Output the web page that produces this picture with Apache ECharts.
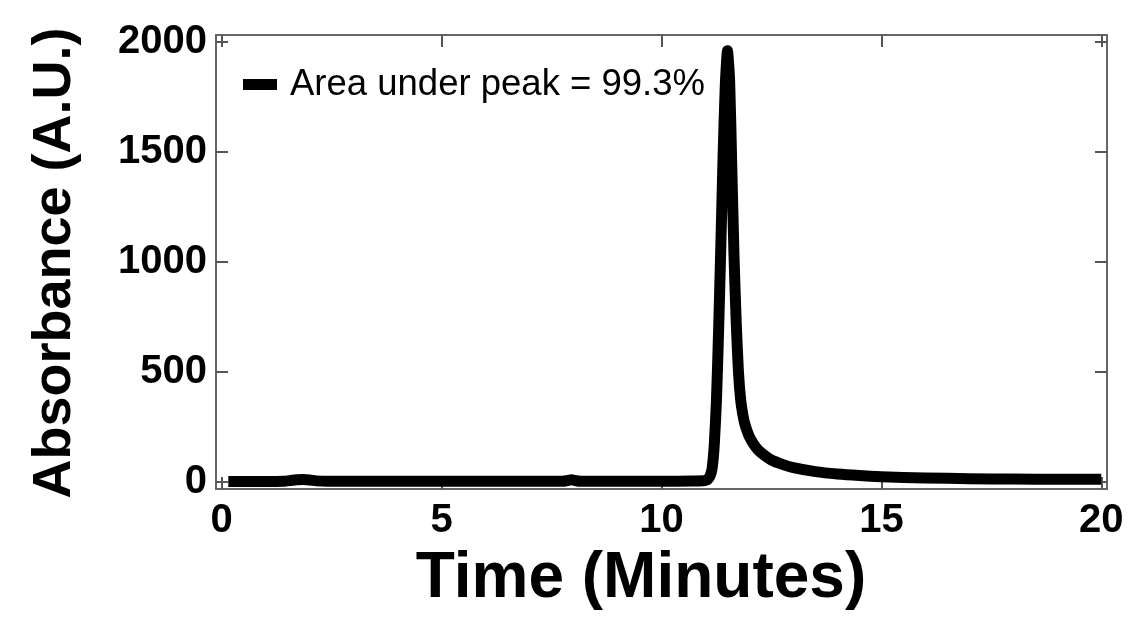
<!DOCTYPE html>
<html>
<head>
<meta charset="utf-8">
<script src="https://cdn.jsdelivr.net/npm/echarts@6/dist/echarts.min.js"></script>
<style>
  html, body { margin: 0; padding: 0; background: #fff; }
  #chart { width: 1132px; height: 634px; }
</style>
</head>
<body>
<div id="chart"></div>
<script>
// Chromatogram trace: retention time (minutes) and detector absorbance (A.U.)
const timeMin = [
  0.15, 0.5, 1.0, 1.4, 1.55, 1.7, 1.85, 2.0, 2.15, 2.4, 3.0, 4.0, 5.0, 6.0, 7.0, 7.75,
  7.85, 7.95, 8.05, 8.15, 9.0, 10.0, 10.7, 10.95, 11.0, 11.05, 11.1, 11.15, 11.2, 11.25,
  11.3, 11.35, 11.4, 11.45, 11.5, 11.55, 11.6, 11.65, 11.7, 11.75, 11.8, 11.85,
  11.9, 11.95, 12.0, 12.1, 12.2, 12.35, 12.5, 12.75, 13.0, 13.5, 14.0, 14.5, 15.0,
  16.0, 17.0, 18.0, 19.0, 20.0
];
const absorbance = [
  2, 2, 2, 3, 6, 10, 11, 9, 5, 3, 3, 3, 3, 3, 3, 3,
  6, 10, 6, 3, 3, 3, 4, 5, 7, 12, 25, 60, 170, 373,
  700, 1080, 1480, 1800, 1960, 1820, 1418, 1020, 720, 500, 373, 305,
  260, 230, 205, 170, 145, 120, 100, 80, 65, 47, 36, 29, 24,
  18, 15, 13, 12, 12
];
const xTicks = [0, 5, 10, 15, 20];
const yTicks = [0, 500, 1000, 1500, 2000];

const legendLabel = 'Area under peak = 99.3%';
const xTitle = 'Time (Minutes)';
const yTitle = 'Absorbance (A.U.)';

const FONT = 'Liberation Sans, Arial, sans-serif';
const AXIS_GRAY = '#666';
const TICK_STYLE = { color: '#555', width: 2 };

const seriesData = timeMin.map((t, i) => [t, absorbance[i]]);

const chart = echarts.init(document.getElementById('chart'), null, { renderer: 'canvas' });

function frameAxis(extra) {
  return Object.assign({
    type: 'value',
    splitLine: { show: false },
    axisLine: { show: true, onZero: false, lineStyle: { color: AXIS_GRAY, width: 2 } }
  }, extra);
}

const tickLabel = {
  fontFamily: FONT, fontSize: 40, fontWeight: 'bold', color: '#000',
  formatter: v => String(v)
};

chart.setOption({
  animation: false,
  backgroundColor: '#fff',
  grid: { left: 216, right: 25, top: 35, bottom: 145, containLabel: false },
  legend: {
    left: 243,
    top: 66,
    padding: 0,
    itemWidth: 34,
    itemHeight: 11,
    icon: 'rect',
    data: [{ name: legendLabel, icon: 'rect', itemStyle: { color: '#000' } }],
    textStyle: { fontFamily: FONT, fontSize: 36.5, color: '#000', padding: [0, 0, 0, 8] }
  },
  xAxis: [
    frameAxis({
      position: 'bottom', min: -0.13, max: 20.13,
      axisTick: { show: true, inside: true, length: 12, customValues: xTicks, lineStyle: TICK_STYLE },
      axisLabel: Object.assign({ show: true, customValues: xTicks, margin: 12 }, tickLabel)
    }),
    frameAxis({
      position: 'top', min: -0.13, max: 20.13,
      axisTick: { show: true, inside: true, length: 12, customValues: xTicks, lineStyle: TICK_STYLE },
      axisLabel: { show: false }
    })
  ],
  yAxis: [
    frameAxis({
      position: 'left', min: -32, max: 2032,
      axisTick: { show: true, inside: true, length: 12, customValues: yTicks, lineStyle: TICK_STYLE },
      axisLabel: Object.assign({ show: true, customValues: yTicks, margin: 9 }, tickLabel)
    }),
    frameAxis({
      position: 'right', min: -32, max: 2032,
      axisTick: { show: true, inside: true, length: 12, customValues: yTicks, lineStyle: TICK_STYLE },
      axisLabel: { show: false }
    })
  ],
  series: [{
    name: legendLabel,
    type: 'line',
    xAxisIndex: 0,
    yAxisIndex: 0,
    data: seriesData,
    showSymbol: false,
    symbol: 'none',
    smooth: 0.2,
    lineStyle: { color: '#000', width: 11, join: 'round', cap: 'butt' },
    itemStyle: { color: '#000' }
  }],
  graphic: [
    {
      type: 'text',
      x: 641, y: 579,
      style: {
        text: xTitle,
        font: 'bold 64px ' + FONT,
        fill: '#000', align: 'center', verticalAlign: 'middle'
      }
    },
    {
      type: 'text',
      x: 55, y: 263,
      rotation: Math.PI / 2,
      style: {
        text: yTitle,
        font: 'bold 54px ' + FONT,
        fill: '#000', align: 'center', verticalAlign: 'middle'
      }
    }
  ]
});
</script>
</body>
</html>
